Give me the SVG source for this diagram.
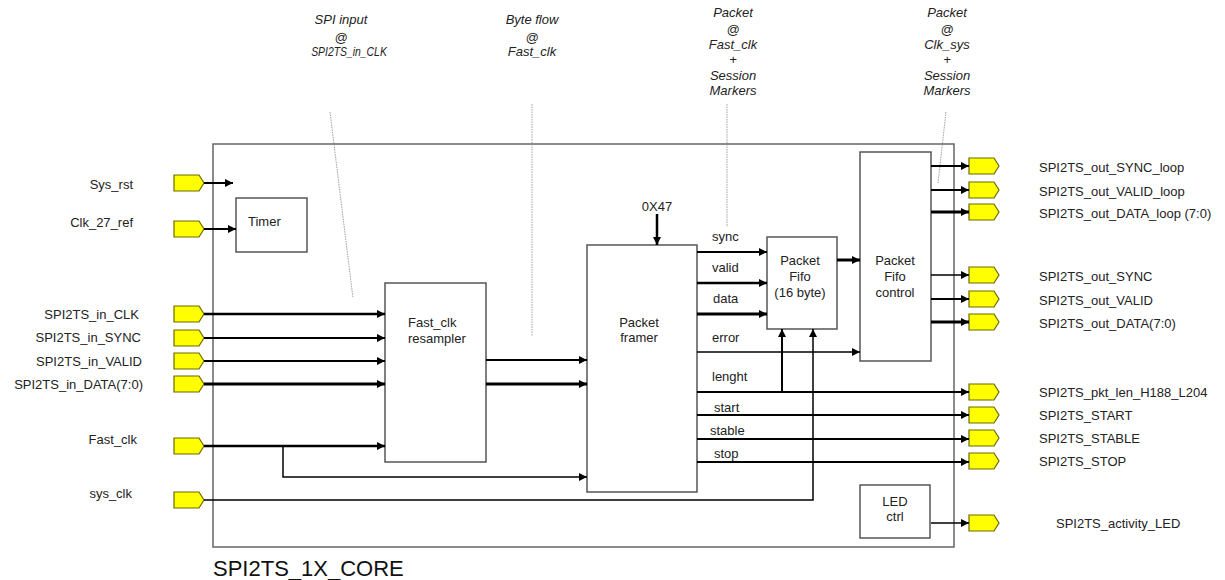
<svg xmlns="http://www.w3.org/2000/svg" width="1225" height="580" viewBox="0 0 1225 580">
<style>
  .t{font-family:"Liberation Sans",Arial,sans-serif;font-size:13px;fill:#222}
  .r{text-anchor:end}
  .m{text-anchor:middle}
  .ann{font-family:"Liberation Sans",Arial,sans-serif;font-size:13px;font-style:italic;fill:#222;text-anchor:middle}
  .box{fill:#fff;stroke:#555;stroke-width:1.5}
  .port{fill:#ffff00;stroke:#6b6b00;stroke-width:1.2}
  .w{fill:none;stroke:#000}
  .a{marker-end:url(#arr)}
  .lead{fill:none;stroke:#888;stroke-width:0.8;stroke-dasharray:1.5 1}
</style>
<defs>
  <marker id="arr" markerUnits="userSpaceOnUse" markerWidth="9" markerHeight="9" refX="8" refY="4" orient="auto">
    <path d="M0,0 L8,4 L0,8 z" fill="#000"/>
  </marker>
  <polygon id="port" points="0,-8 25,-8 30,0 25,8 0,8"/>
</defs>
<rect width="1225" height="580" fill="#fff"/>

<!-- core -->
<g id="core">
  <rect x="213" y="144" width="741" height="403" fill="none" stroke="#666" stroke-width="1.5"/>
  <text x="213" y="576" font-family="Liberation Sans,Arial,sans-serif" font-size="22" fill="#111">SPI2TS_1X_CORE</text>
</g>

<!-- annotations -->
<g id="annotations">
  <text class="ann" x="341" y="24">SPI input</text>
  <text class="ann" x="341" y="42">@</text>
  <text class="ann" x="0" y="0" transform="translate(349,56) scale(0.8,1)">SPI2TS_in_CLK</text>
  <text class="ann" x="532" y="24">Byte flow</text>
  <text class="ann" x="532" y="42">@</text>
  <text class="ann" x="532" y="56">Fast_clk</text>
  <text class="ann" x="733" y="17">Packet</text>
  <text class="ann" x="733" y="34">@</text>
  <text class="ann" x="733" y="49">Fast_clk</text>
  <text class="ann" x="733" y="64">+</text>
  <text class="ann" x="733" y="80">Session</text>
  <text class="ann" x="733" y="95">Markers</text>
  <text class="ann" x="947" y="17">Packet</text>
  <text class="ann" x="947" y="34">@</text>
  <text class="ann" x="947" y="49">Clk_sys</text>
  <text class="ann" x="947" y="64">+</text>
  <text class="ann" x="947" y="80">Session</text>
  <text class="ann" x="947" y="95">Markers</text>
  <path class="lead" d="M330,112 L353,298"/>
  <path class="lead" d="M532,104 V336"/>
  <path class="lead" d="M727,104 V227"/>
  <path class="lead" d="M946,112 L938,183"/>
</g>

<!-- left ports -->
<g id="in_ports">
  <g id="p_sys_rst"><use href="#port" class="port" x="174" y="183"/><text class="t r" x="133" y="189">Sys_rst</text></g>
  <g id="p_clk27"><use href="#port" class="port" x="174" y="229"/><text class="t r" x="133" y="227">Clk_27_ref</text></g>
  <g id="p_in_clk"><use href="#port" class="port" x="174" y="314"/><text class="t r" x="139" y="319">SPI2TS_in_CLK</text></g>
  <g id="p_in_sync"><use href="#port" class="port" x="174" y="338"/><text class="t r" x="141" y="342">SPI2TS_in_SYNC</text></g>
  <g id="p_in_valid"><use href="#port" class="port" x="174" y="361"/><text class="t r" x="142" y="366">SPI2TS_in_VALID</text></g>
  <g id="p_in_data"><use href="#port" class="port" x="174" y="384"/><text class="t r" x="143" y="389">SPI2TS_in_DATA(7:0)</text></g>
  <g id="p_fast_clk"><use href="#port" class="port" x="174" y="446"/><text class="t r" x="137" y="444">Fast_clk</text></g>
  <g id="p_sys_clk"><use href="#port" class="port" x="174" y="500"/><text class="t r" x="132" y="498">sys_clk</text></g>
</g>

<!-- right ports -->
<g id="out_ports">
  <g id="o1"><use href="#port" class="port" x="969" y="166"/><text class="t" x="1039" y="172">SPI2TS_out_SYNC_loop</text></g>
  <g id="o2"><use href="#port" class="port" x="969" y="190"/><text class="t" x="1039" y="196">SPI2TS_out_VALID_loop</text></g>
  <g id="o3"><use href="#port" class="port" x="969" y="212"/><text class="t" x="1039" y="218">SPI2TS_out_DATA_loop (7:0)</text></g>
  <g id="o4"><use href="#port" class="port" x="969" y="275"/><text class="t" x="1039" y="281">SPI2TS_out_SYNC</text></g>
  <g id="o5"><use href="#port" class="port" x="969" y="299"/><text class="t" x="1039" y="305">SPI2TS_out_VALID</text></g>
  <g id="o6"><use href="#port" class="port" x="969" y="322"/><text class="t" x="1039" y="328">SPI2TS_out_DATA(7:0)</text></g>
  <g id="o7"><use href="#port" class="port" x="969" y="392"/><text class="t" x="1039" y="397">SPI2TS_pkt_len_H188_L204</text></g>
  <g id="o8"><use href="#port" class="port" x="969" y="415"/><text class="t" x="1039" y="420">SPI2TS_START</text></g>
  <g id="o9"><use href="#port" class="port" x="969" y="438"/><text class="t" x="1039" y="443">SPI2TS_STABLE</text></g>
  <g id="o10"><use href="#port" class="port" x="969" y="461"/><text class="t" x="1039" y="466">SPI2TS_STOP</text></g>
  <g id="o11"><use href="#port" class="port" x="969" y="523"/><text class="t" x="1056" y="528">SPI2TS_activity_LED</text></g>
</g>

<!-- blocks -->
<g id="timer"><rect class="box" x="236" y="198" width="71" height="54"/><text class="t" x="248" y="226">Timer</text></g>
<g id="resampler"><rect class="box" x="385" y="283" width="101" height="179"/><text class="t" x="408" y="327">Fast_clk</text><text class="t" x="408" y="343">resampler</text></g>
<g id="framer"><rect class="box" x="587" y="245" width="110" height="247"/><text class="t m" x="639" y="327">Packet</text><text class="t m" x="639" y="342">framer</text></g>
<g id="fifo"><rect class="box" x="767" y="237" width="70" height="92"/><text class="t m" x="800" y="265">Packet</text><text class="t m" x="800" y="281">Fifo</text><text class="t m" x="800" y="297">(16 byte)</text></g>
<g id="fifo_ctrl"><rect class="box" x="860" y="152" width="71" height="209"/><text class="t m" x="895" y="265">Packet</text><text class="t m" x="895" y="281">Fifo</text><text class="t m" x="895" y="297">control</text></g>
<g id="led_ctrl"><rect class="box" x="860" y="485" width="70" height="53"/><text class="t m" x="895" y="506">LED</text><text class="t m" x="895" y="521">ctrl</text></g>
<g id="const"><text class="t m" x="657" y="211">0X47</text></g>

<!-- connectors -->
<g id="connectors">
  <path class="w a" stroke-width="2" d="M204,183 H233"/>
  <path class="w a" stroke-width="2" d="M204,229 H236"/>
  <path class="w a" stroke-width="2.5" d="M204,314 H385"/>
  <path class="w a" stroke-width="2" d="M204,338 H385"/>
  <path class="w a" stroke-width="2" d="M204,361 H385"/>
  <path class="w a" stroke-width="3" d="M204,384 H385"/>
  <path class="w a" stroke-width="2.5" d="M204,446 H385"/>
  <path class="w a" stroke-width="1.5" d="M283,446 V477 H587"/>
  <path class="w a" stroke-width="1.5" d="M204,500 H813 V329"/>
  <path class="w a" stroke-width="2" d="M486,360 H587"/>
  <path class="w a" stroke-width="3" d="M486,384 H587"/>
  <path class="w a" stroke-width="2.5" d="M657,214 V245"/>
  <path class="w a" stroke-width="2" d="M697,252 H767"/>
  <path class="w a" stroke-width="2.5" d="M697,283 H767"/>
  <path class="w a" stroke-width="3" d="M697,314 H767"/>
  <path class="w a" stroke-width="1.5" d="M697,352 H860"/>
  <path class="w a" stroke-width="2" d="M697,392 H969"/>
  <path class="w a" stroke-width="2" d="M782,392 V329"/>
  <path class="w a" stroke-width="2" d="M697,415 H969"/>
  <path class="w a" stroke-width="2" d="M697,439 H969"/>
  <path class="w a" stroke-width="2" d="M697,462 H969"/>
  <path class="w a" stroke-width="3" d="M837,260 H860"/>
  <path class="w a" stroke-width="2" d="M931,166 H969"/>
  <path class="w a" stroke-width="2" d="M931,190 H969"/>
  <path class="w a" stroke-width="3" d="M931,212 H969"/>
  <path class="w a" stroke-width="1.5" d="M931,275 H969"/>
  <path class="w a" stroke-width="2" d="M931,299 H969"/>
  <path class="w a" stroke-width="3" d="M931,322 H969"/>
  <path class="w a" stroke-width="1.5" d="M931,523 H969"/>
</g>

<!-- signal labels -->
<g id="signal_labels">
  <text class="t" x="712" y="241">sync</text>
  <text class="t" x="712" y="272">valid</text>
  <text class="t" x="713" y="303">data</text>
  <text class="t" x="712" y="342">error</text>
  <text class="t" x="712" y="381">lenght</text>
  <text class="t" x="714" y="412">start</text>
  <text class="t" x="710" y="435">stable</text>
  <text class="t" x="714" y="458">stop</text>
</g>
</svg>
